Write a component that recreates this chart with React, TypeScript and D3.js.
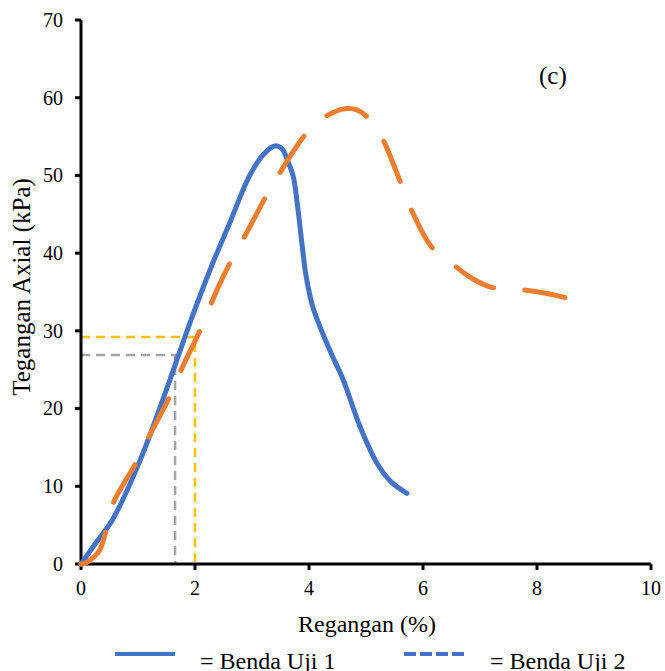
import React from "react";
import * as d3 from "d3";

const xTicks = [0, 2, 4, 6, 8, 10];
const yTicks = [0, 10, 20, 30, 40, 50, 60, 70];

const uji1X = [0, 0.25, 0.56, 1.04, 1.56, 1.91, 2.3, 2.61, 2.96, 3.2, 3.4, 3.53, 3.63, 3.72, 3.8, 3.88, 3.95, 4.07, 4.25, 4.42, 4.6, 4.9, 5.19, 5.45, 5.72];
const uji1Y = [0, 2.6, 5.8, 13.4, 23.7, 31, 38.5, 43.9, 50, 52.7, 53.8, 53.4, 51.8, 50, 46, 41, 37, 33, 29.5, 26.6, 23.7, 17.6, 13, 10.5, 9.1];

const uji2X = [0, 0.1, 0.21, 0.33, 0.45, 0.57, 0.98, 1.18, 1.56, 1.74, 2.09, 2.4, 2.61, 2.84, 3.23, 3.46, 3.93, 4.22, 4.45, 4.66, 4.85, 5.01, 5.27, 5.6, 5.77, 6.15, 6.5, 6.85, 7.2, 7.67, 8.1, 8.49];
const uji2Y = [0, 0.2, 0.8, 1.8, 4.6, 7.9, 13.2, 16.2, 21.6, 24.7, 30.1, 35.5, 38.7, 41.7, 47.1, 50, 55.2, 57.2, 58.2, 58.6, 58.4, 57.6, 55, 49.2, 46, 40.8, 38.7, 36.8, 35.6, 35.35, 34.9, 34.3];

const grayRef = { x: 1.65, y: 26.9 };
const goldRef = { x: 2.0, y: 29.2 };

const legendLabels = ["= Benda Uji 1", "= Benda Uji 2"];

export default function App() {
  const W = 665, H = 671;
  const x = d3.scaleLinear().domain([0, 10]).range([81, 651]);
  const y = d3.scaleLinear().domain([0, 70]).range([564, 20]);
  const line = d3.line<[number, number]>().x(d => x(d[0])).y(d => y(d[1])).curve(d3.curveCatmullRom.alpha(0.5));
  const d1 = line(uji1X.map((v, i) => [v, uji1Y[i]]));
  const d2 = line(uji2X.map((v, i) => [v, uji2Y[i]]));
  const font = "Liberation Serif, DejaVu Serif, serif";
  const ts = { fontFamily: font };
  const refDash = "9 6";
  return (
    <div style={{ position: "fixed", left: 0, top: 0 }}>
      <svg width={W} height={H} style={{ display: "block", background: "#fff" }}>
        <rect width={W} height={H} fill="#fff" />
        <path d={`M${x(0)},${y(grayRef.y)}H${x(grayRef.x)}V${y(0)}`} fill="none" stroke="#A5A5A5" strokeWidth={2.5} strokeDasharray={refDash} />
        <path d={`M${x(0)},${y(goldRef.y)}H${x(goldRef.x)}V${y(0)}`} fill="none" stroke="#FFC000" strokeWidth={2.5} strokeDasharray={refDash} />
        <line x1={x(0)} x2={x(10)} y1={y(0)} y2={y(0)} stroke="#000" strokeWidth={3} />
        <line x1={x(0)} x2={x(0)} y1={y(0) + 1.5} y2={y(70)} stroke="#000" strokeWidth={3} />
        {yTicks.map(t => (
          <g key={"y" + t}>
            <line x1={x(0) - 6} x2={x(0)} y1={y(t)} y2={y(t)} stroke="#000" strokeWidth={3} />
            <text x={63} y={y(t)} dy="0.34em" textAnchor="end" fontSize={20} style={ts}>{t}</text>
          </g>
        ))}
        {xTicks.map(t => (
          <g key={"x" + t}>
            <line x1={x(t)} x2={x(t)} y1={y(0)} y2={y(0) + 6} stroke="#000" strokeWidth={3} />
            <text x={x(t)} y={595} textAnchor="middle" fontSize={20} style={ts}>{t}</text>
          </g>
        ))}
        <path d={d1 || ""} fill="none" stroke="#4472C4" strokeWidth={5} strokeLinecap="round" strokeLinejoin="round" />
        <path d={d2 || ""} fill="none" stroke="#ED7D31" strokeWidth={5} strokeLinecap="round" strokeLinejoin="round" strokeDasharray="43 31" />
        <text x={539} y={84} fontSize={25} style={ts}>(c)</text>
        <text x={367} y={632} textAnchor="middle" fontSize={24} style={ts}>Regangan (%)</text>
        <text transform={`translate(30,${287}) rotate(-90)`} textAnchor="middle" fontSize={25} style={ts}>Tegangan Axial (kPa)</text>
        <line x1={115} x2={175} y1={654} y2={654} stroke="#4472C4" strokeWidth={4} />
        <text x={200} y={669} fontSize={24} style={ts}>{legendLabels[0]}</text>
        <line x1={404} x2={464} y1={654} y2={654} stroke="#4472C4" strokeWidth={4} strokeDasharray="12 4" />
        <text x={490} y={669} fontSize={24} style={ts}>{legendLabels[1]}</text>
      </svg>
    </div>
  );
}
